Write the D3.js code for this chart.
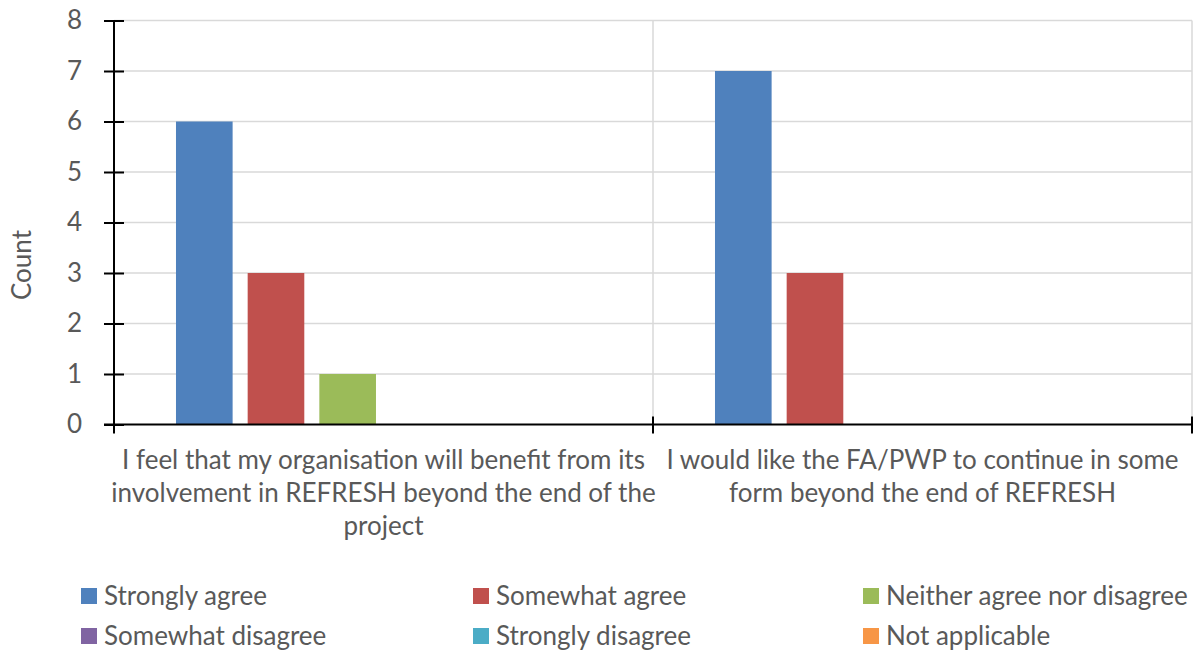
<!DOCTYPE html>
<html lang="en">
<head>
  <meta charset="UTF-8">
  <title>REFRESH survey responses</title>
  <style>
    html, body { margin: 0; padding: 0; background: #fff; }
    svg text { font-family: Lato, "Open Sans", sans-serif; fill: #595959; }
  </style>
</head>
<body>
<div id="chart"></div>
<script src="https://d3js.org/d3.v7.min.js"></script>
<script>
  // line breaks follow the original chart
  const categories = [
    'I feel that my organisation will benefit from its\ninvolvement in REFRESH beyond the end of the\nproject',
    'I would like the FA/PWP to continue in some\nform beyond the end of REFRESH'
  ];
  const seriesNames = [
    'Strongly agree', 'Somewhat agree', 'Neither agree nor disagree',
    'Somewhat disagree', 'Strongly disagree', 'Not applicable'
  ];
  const stronglyAgree = [6, 7];
  const somewhatAgree = [3, 3];
  const neither = [1, 0];
  const somewhatDisagree = [0, 0];
  const stronglyDisagree = [0, 0];
  const notApplicable = [0, 0];
  const seriesValues = [stronglyAgree, somewhatAgree, neither, somewhatDisagree, stronglyDisagree, notApplicable];
  const colors = ['#4F81BD', '#C0504D', '#9BBB59', '#8064A2', '#4BACC6', '#F79646'];
  const yTicks = [0, 1, 2, 3, 4, 5, 6, 7, 8];

  const width = 1196;
  const height = 650;
  const margin = { left: 114, right: 4, top: 20.5, bottom: 225.5 };
  const fontSize = 26;

  const svg = d3.select('#chart').append('svg')
    .attr('width', width)
    .attr('height', height);

  const x = d3.scaleBand()
    .domain(d3.range(categories.length))
    .range([margin.left, width - margin.right]);

  const inner = x.bandwidth() * 0.115;
  const xs = d3.scaleBand()
    .domain(d3.range(seriesNames.length))
    .range([inner, x.bandwidth() - inner])
    .paddingInner(0.21);

  const y = d3.scaleLinear()
    .domain([0, 8])
    .range([height - margin.bottom, margin.top]);

  // gridlines
  svg.append('g')
    .selectAll('line')
    .data(yTicks.slice(1))
    .join('line')
    .attr('x1', margin.left)
    .attr('x2', width - margin.right)
    .attr('y1', d => y(d))
    .attr('y2', d => y(d))
    .attr('stroke', '#D9D9D9')
    .attr('stroke-width', 1.5);

  svg.append('g')
    .selectAll('line')
    .data(d3.range(1, categories.length + 1))
    .join('line')
    .attr('x1', d => x(0) + d * x.step())
    .attr('x2', d => x(0) + d * x.step())
    .attr('y1', y(8))
    .attr('y2', y(0))
    .attr('stroke', '#D9D9D9')
    .attr('stroke-width', 1.5);

  // bars
  const groups = svg.append('g')
    .selectAll('g')
    .data(categories.map((c, i) => i))
    .join('g')
    .attr('transform', i => `translate(${x(i)},0)`);

  groups.selectAll('rect')
    .data(i => seriesValues.map((vals, s) => ({ s, v: vals[i] })))
    .join('rect')
    .attr('x', d => xs(d.s))
    .attr('width', xs.bandwidth())
    .attr('y', d => y(d.v))
    .attr('height', d => y(0) - y(d.v))
    .attr('fill', d => colors[d.s]);

  // y axis
  const yAxis = svg.append('g')
    .attr('transform', `translate(${margin.left},0)`)
    .call(d3.axisLeft(y).tickValues(yTicks).tickSizeInner(10).tickSizeOuter(0).tickPadding(22));
  yAxis.select('.domain').attr('stroke', '#000').attr('stroke-width', 2)
    .attr('d', `M0,${y(8)}V${y(0) + 9}`);
  yAxis.selectAll('.tick line').attr('x1', -10).attr('x2', 10).attr('stroke', '#000').attr('stroke-width', 2);
  yAxis.selectAll('.tick text')
    .style('font-size', fontSize + 'px')
    .attr('fill', '#595959');

  // x axis
  const xAxis = svg.append('g');
  xAxis.append('line')
    .attr('x1', margin.left - 10)
    .attr('x2', width - margin.right)
    .attr('y1', y(0))
    .attr('y2', y(0))
    .attr('stroke', '#000')
    .attr('stroke-width', 2);
  xAxis.selectAll('line.tk')
    .data(d3.range(1, categories.length + 1))
    .join('line')
    .attr('class', 'tk')
    .attr('x1', d => x(0) + d * x.step())
    .attr('x2', d => x(0) + d * x.step())
    .attr('y1', y(0) - 8)
    .attr('y2', y(0) + 9)
    .attr('stroke', '#000')
    .attr('stroke-width', 2);

  // category labels
  categories.forEach((label, i) => {
    const t = svg.append('text')
      .attr('text-anchor', 'middle')
      .style('font-size', fontSize + 'px');
    label.split('\n').forEach((l, k) => {
      t.append('tspan')
        .attr('x', x(i) + x.bandwidth() / 2)
        .attr('y', 469 + k * 33)
        .text(l);
    });
  });

  // y title
  svg.append('text')
    .attr('transform', 'translate(31,265) rotate(-90)')
    .attr('text-anchor', 'middle')
    .style('font-size', fontSize + 'px')
    .text('Count');

  // legend
  const legendX = [81, 473, 863];
  const legendY = [596, 636];
  const legend = svg.append('g')
    .selectAll('g')
    .data(seriesNames)
    .join('g')
    .attr('transform', (d, i) => `translate(${legendX[i % 3]},${legendY[Math.floor(i / 3)]})`);
  legend.append('rect')
    .attr('x', 0)
    .attr('y', -8)
    .attr('width', 16)
    .attr('height', 16)
    .attr('fill', (d, i) => colors[i]);
  legend.append('text')
    .attr('x', 23)
    .attr('y', 0)
    .attr('dy', '0.36em')
    .style('font-size', fontSize + 'px')
    .text(d => d);
</script>
</body>
</html>
